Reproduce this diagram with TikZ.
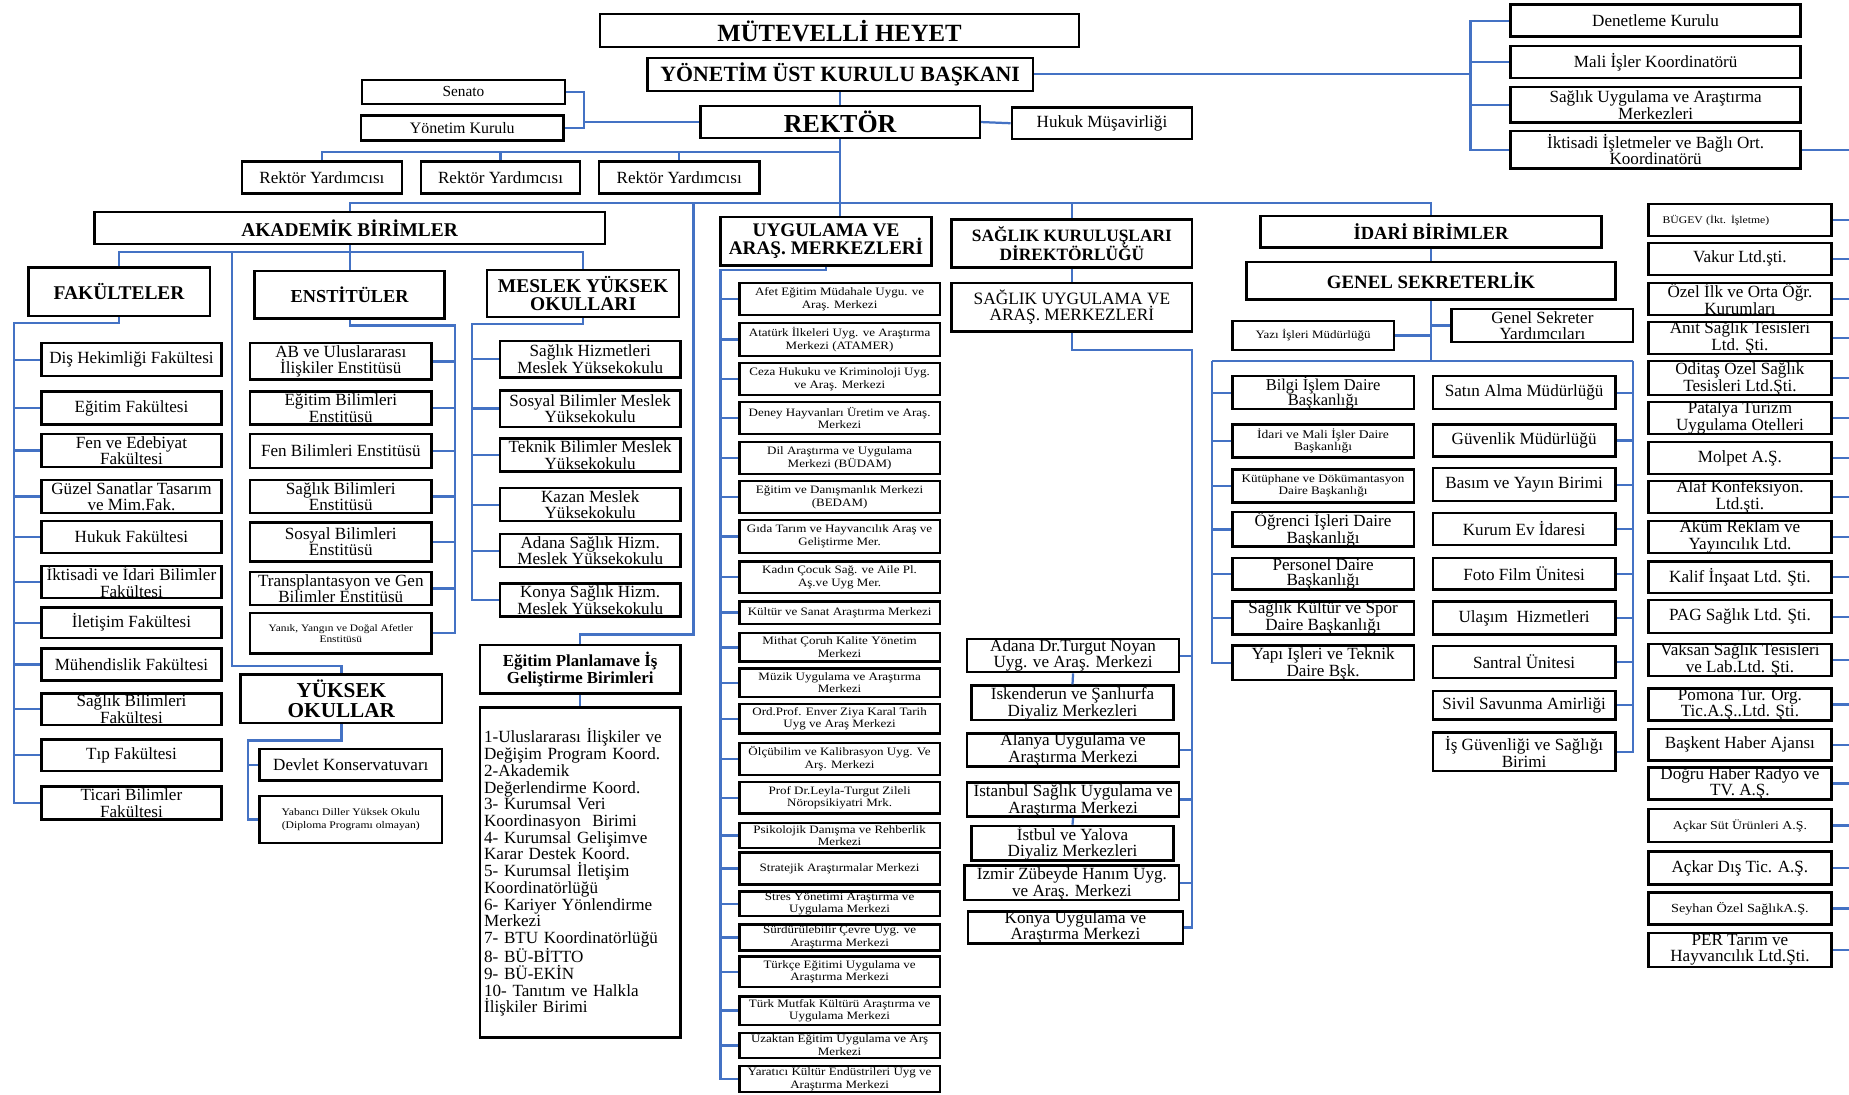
\documentclass[tikz,border=0pt]{standalone}
\usepackage{fontspec}
\setmainfont{Liberation Serif}
\newfontfamily\nrw{Liberation Serif}[FakeStretch=1.15]
\definecolor{cblue}{RGB}{68,114,196}
\tikzset{
  box/.style={draw=black, line width=2.1pt, inner sep=0pt, align=center, fill=white, text=black},
  conn/.style={draw=cblue, line width=1.9pt},
  rg/.style={box, font=\fontsize{14.5}{14}\selectfont},
  sm/.style={box, font=\nrw\fontsize{9.6}{10.7}\selectfont},
  fs/.style 2 args={box, font=\fontsize{#1}{#2}\selectfont},
  sfs/.style 2 args={box, font=\nrw\fontsize{#1}{#2}\selectfont},
  bd/.style 2 args={box, font=\bfseries\fontsize{#1}{#2}\selectfont},
}
\newcommand\bx[7]{\node[#6, minimum width={(#4)-(#2)}, minimum height={(#5)-(#3)}] (#1) at ({((#2)+(#4))/2},{((#3)+(#5))/2}) {#7};}
\begin{document}
\begin{tikzpicture}[x=1pt,y=-1pt]
\fill[white] (0,0) rectangle (1568,928);
\useasboundingbox (0,0) rectangle (1568,928);

% ---------- top ----------
\bx{mh}{509}{12}{915}{40}{bd={21}{21}}{MÜTEVELLİ HEYET}
\bx{yk}{549}{49}{876}{77}{bd={18.5}{18.5}}{YÖNETİM ÜST KURULU BAŞKANI}
\bx{rk}{594}{90}{831}{117}{bd={22}{22}}{REKTÖR}
\bx{hk}{858}{91}{1011}{118}{rg}{Hukuk Müşavirliği}
\bx{sen}{307}{68}{479}{88}{fs={13}{13}}{Senato}
\bx{ykr}{306}{98}{478}{119}{fs={13.5}{13.5}}{Yönetim Kurulu}
\bx{ry1}{205}{137}{341}{164}{rg}{Rektör Yardımcısı}
\bx{ry2}{357}{137}{492}{164}{rg}{Rektör Yardımcısı}
\bx{ry3}{508}{137}{644}{164}{rg}{Rektör Yardımcısı}
\bx{dk}{1281}{4}{1527}{31}{rg}{Denetleme Kurulu}
\bx{mik}{1281}{39}{1527}{66}{rg}{Mali İşler Koordinatörü}
\bx{suam}{1281}{74}{1527}{104}{rg}{Sağlık Uygulama ve Araştırma\\Merkezleri}
\bx{iik}{1281}{111}{1527}{143}{rg}{İktisadi İşletmeler ve Bağlı Ort.\\Koordinatörü}

% ---------- academic ----------
\bx{akd}{80}{180}{513}{207}{bd={16.5}{16.5}}{AKADEMİK BİRİMLER}
\bx{fak}{24}{227}{178}{268}{bd={16.5}{16.5}}{FAKÜLTELER}
\bx{ens}{216}{230}{377}{270}{bd={15.5}{15.5}}{ENSTİTÜLER}
\bx{myo}{413}{229}{576}{269}{bd={16.5}{15.5}}{MESLEK YÜKSEK\\OKULLARI}
\bx{yo}{204}{572}{375}{613}{bd={18}{17}}{YÜKSEK\\OKULLAR}

\bx{f1}{35}{291}{188}{319}{rg}{Diş Hekimliği Fakültesi}
\bx{f2}{35}{332}{188}{360}{rg}{Eğitim Fakültesi}
\bx{f3}{35}{368}{188}{396}{rg}{Fen ve Edebiyat\\Fakültesi}
\bx{f4}{35}{407}{188}{435}{rg}{Güzel Sanatlar Tasarım\\ve Mim.Fak.}
\bx{f5}{35}{442}{188}{469}{rg}{Hukuk Fakültesi}
\bx{f6}{35}{480}{188}{507}{rg}{İktisadi ve İdari Bilimler\\Fakültesi}
\bx{f7}{35}{515}{188}{541}{rg}{İletişim Fakültesi}
\bx{f8}{35}{550}{188}{577}{rg}{Mühendislik Fakültesi}
\bx{f9}{35}{588}{188}{615}{rg}{Sağlık Bilimleri\\Fakültesi}
\bx{f10}{35}{627}{188}{654}{rg}{Tıp Fakültesi}
\bx{f11}{35}{667}{188}{695}{rg}{Ticari Bilimler\\Fakültesi}

\bx{e1}{212}{291}{366}{322}{rg}{AB ve Uluslararası\\İlişkiler Enstitüsü}
\bx{e2}{212}{332}{366}{360}{rg}{Eğitim Bilimleri\\Enstitüsü}
\bx{e3}{212}{368}{366}{397}{rg}{Fen Bilimleri Enstitüsü}
\bx{e4}{212}{407}{366}{435}{rg}{Sağlık Bilimleri\\Enstitüsü}
\bx{e5}{212}{443}{366}{476}{rg}{Sosyal Bilimleri\\Enstitüsü}
\bx{e6}{212}{485}{366}{513}{rg}{Transplantasyon ve Gen\\Bilimler Enstitüsü}
\bx{e7}{212}{520}{366}{554}{sfs={8.4}{9.5}}{Yanık, Yangın ve Doğal Afetler\\Enstitüsü}

\bx{m1}{424}{289}{577}{320}{rg}{Sağlık Hizmetleri\\Meslek Yüksekokulu}
\bx{m2}{424}{331}{577}{362}{rg}{Sosyal Bilimler Meslek\\Yüksekokulu}
\bx{m3}{424}{372}{577}{400}{rg}{Teknik Bilimler Meslek\\Yüksekokulu}
\bx{m4}{424}{414}{577}{442}{rg}{Kazan Meslek\\Yüksekokulu}
\bx{m5}{424}{453}{577}{481}{rg}{Adana Sağlık Hizm.\\Meslek Yüksekokulu}
\bx{m6}{424}{495}{577}{523}{rg}{Konya Sağlık Hizm.\\Meslek Yüksekokulu}

\bx{dev}{220}{635}{375}{662}{rg}{Devlet Konservatuvarı}
\bx{yab}{220}{675}{375}{715}{sfs={8.6}{11}}{Yabancı Diller Yüksek Okulu\\(Diploma Programı olmayan)}

\bx{eplan}{407}{547}{577}{588}{bd={14.3}{14.1}}{Eğitim Planlamave İş\\Geliştirme Birimleri}
\node[box, font=\fontsize{14.5}{14.2}\selectfont, minimum width=170, minimum height=280, text width=163, inner xsep=3.5, align=left] (elist) at (492,740) {1-Uluslararası İlişkiler ve\\Değişim Program Koord.\\2-Akademik\\Değerlendirme Koord.\\3- Kurumsal Veri\\Koordinasyon\ \ Birimi\\4- Kurumsal Gelişimve\\Karar Destek Koord.\\5- Kurumsal İletişim\\Koordinatörlüğü\\6- Kariyer Yönlendirme\\Merkezi\\7- BTU Koordinatörlüğü\\8- BÜ-BİTTO\\9- BÜ-EKİN\\10- Tanıtım ve Halkla\\İlişkiler Birimi};

% ---------- uygulama ----------
\bx{uyg}{611}{184}{790}{225}{bd={16.3}{15.5}}{UYGULAMA VE\\ARAŞ. MERKEZLERİ}
\bx{u1}{627}{240}{797}{267}{sm}{Afet Eğitim Müdahale Uygu. ve\\Araş. Merkezi}
\bx{u2}{627}{274}{797}{302}{sm}{Atatürk İlkeleri Uyg. ve Araştırma\\Merkezi (ATAMER)}
\bx{u3}{627}{308}{797}{335}{sm}{Ceza Hukuku ve Kriminoloji Uyg.\\ve Araş. Merkezi}
\bx{u4}{627}{341}{797}{368}{sm}{Deney Hayvanları Üretim ve Araş.\\Merkezi}
\bx{u5}{627}{375}{797}{402}{sm}{Dil Araştırma ve Uygulama\\Merkezi (BÜDAM)}
\bx{u6}{627}{408}{797}{435}{sm}{Eğitim ve Danışmanlık Merkezi\\(BEDAM)}
\bx{u7}{627}{441}{797}{469}{sm}{Gıda Tarım ve Hayvancılık Araş ve\\Geliştirme Mer.}
\bx{u8}{627}{476}{797}{503}{sm}{Kadın Çocuk Sağ. ve Aile Pl.\\Aş.ve Uyg Mer.}
\bx{u9}{627}{510}{797}{529}{sm}{Kültür ve Sanat Araştırma Merkezi}
\bx{u10}{627}{537}{797}{561}{sm}{Mithat Çoruh Kalite Yönetim\\Merkezi}
\bx{u11}{627}{567}{797}{591}{sm}{Müzik Uygulama ve Araştırma\\Merkezi}
\bx{u12}{627}{597}{797}{622}{sm}{Ord.Prof. Enver Ziya Karal Tarih\\Uyg ve Araş Merkezi}
\bx{u13}{627}{630}{797}{657}{sm}{Ölçübilim ve Kalibrasyon Uyg. Ve\\Arş. Merkezi}
\bx{u14}{627}{663}{797}{690}{sm}{Prof Dr.Leyla-Turgut Zileli\\Nöropsikiyatri Mrk.}
\bx{u15}{627}{698}{797}{719}{sm}{Psikolojik Danışma ve Rehberlik\\Merkezi}
\bx{u16}{627}{723}{797}{750}{sm}{Stratejik Araştırmalar Merkezi}
\bx{u17}{627}{756}{797}{777}{sm}{Stres Yönetimi Araştırma ve\\Uygulama Merkezi}
\bx{u18}{627}{784}{797}{806}{sm}{Sürdürülebilir Çevre Uyg. ve\\Araştırma Merkezi}
\bx{u19}{627}{811}{797}{837}{sm}{Türkçe Eğitimi Uygulama ve\\Araştırma Merkezi}
\bx{u20}{627}{845}{797}{869}{sm}{Türk Mutfak Kültürü Araştırma ve\\Uygulama Merkezi}
\bx{u21}{627}{876}{797}{897}{sm}{Uzaktan Eğitim Uygulama ve Arş\\Merkezi}
\bx{u22}{627}{904}{797}{926}{sm}{Yaratıcı Kültür Endüstrileri Uyg ve\\Araştırma Merkezi}

% ---------- saglik ----------
\bx{skd}{807}{186}{1011}{227}{bd={14.7}{14.7}}{SAĞLIK KURULUŞLARI\\DİREKTÖRLÜĞÜ}
\bx{suam2}{807}{240}{1011}{281}{fs={14.7}{14.1}}{SAĞLIK UYGULAMA VE\\ARAŞ. MERKEZLERİ}
\bx{h1}{820}{542}{1000}{570}{rg}{Adana Dr.Turgut Noyan\\Uyg. ve Araş. Merkezi}
\bx{h2}{824}{582}{995}{610}{rg}{İskenderun ve Şanlıurfa\\Diyaliz Merkezleri}
\bx{h3}{820}{622}{1000}{650}{rg}{Alanya Uygulama ve\\Araştırma Merkezi}
\bx{h4}{820}{664}{1000}{692}{rg}{İstanbul Sağlık Uygulama ve\\Araştırma Merkezi}
\bx{h5}{824}{701}{995}{729}{rg}{İstbul ve Yalova\\Diyaliz Merkezleri}
\bx{h6}{818}{735}{1000}{762}{rg}{İzmir Zübeyde Hanım Uyg.\\ve Araş. Merkezi}
\bx{h7}{821}{773}{1003}{800}{rg}{Konya Uygulama ve\\Araştırma Merkezi}

% ---------- idari ----------
\bx{idr}{1069}{183}{1358}{210}{bd={15.7}{15.7}}{İDARİ BİRİMLER}
\bx{gs}{1057}{222}{1370}{254}{bd={16}{16}}{GENEL SEKRETERLİK}
\bx{yim}{1045}{272}{1182}{297}{sfs={9.6}{10}}{Yazı İşleri Müdürlüğü}
\bx{gsy}{1231}{262}{1385}{290}{rg}{Genel Sekreter\\Yardımcıları}
\bx{l1}{1045}{319}{1199}{347}{fs={14}{13}}{Bilgi İşlem Daire\\Başkanlığı}
\bx{l2}{1045}{360}{1199}{388}{sfs={10}{10.5}}{İdari ve Mali İşler Daire\\Başkanlığı}
\bx{l3}{1045}{398}{1199}{426}{sfs={9.7}{10.5}}{Kütüphane ve Dökümantasyon\\Daire Başkanlığı}
\bx{l4}{1045}{435}{1199}{463}{fs={14.5}{13}}{Öğrenci İşleri Daire\\Başkanlığı}
\bx{l5}{1045}{473}{1199}{500}{fs={14.5}{13}}{Personel Daire\\Başkanlığı}
\bx{l6}{1045}{510}{1199}{538}{fs={14.5}{13}}{Sağlık Kültür ve Spor\\Daire Başkanlığı}
\bx{l7}{1045}{548}{1199}{576}{fs={14.5}{13}}{Yapı İşleri ve Teknik\\Daire Bşk.}
\bx{r1}{1215}{319}{1370}{347}{rg}{Satın Alma Müdürlüğü}
\bx{r2}{1215}{360}{1370}{387}{rg}{Güvenlik Müdürlüğü}
\bx{r3}{1215}{397}{1370}{425}{rg}{Basım ve Yayın Birimi}
\bx{r4}{1215}{435}{1370}{462}{rg}{Kurum Ev İdaresi}
\bx{r5}{1215}{473}{1370}{500}{rg}{Foto Film Ünitesi}
\bx{r6}{1215}{510}{1370}{538}{rg}{Ulaşım\ \ Hizmetleri}
\bx{r7}{1215}{548}{1370}{575}{rg}{Santral Ünitesi}
\bx{r8}{1215}{586}{1370}{610}{rg}{Sivil Savunma Amirliği}
\bx{r9}{1215}{621}{1370}{654}{rg}{İş Güvenliği ve Sağlığı\\Birimi}

% ---------- companies ----------
\node[box, font=\nrw\fontsize{8.6}{9}\selectfont, minimum width=155, minimum height=27, text width=131, inner xsep=12, align=left] (c1) at (1475.5,186.5) {BÜGEV (İkt. İşletme)};
\bx{c2}{1398}{206}{1553}{233}{rg}{Vakur Ltd.şti.}
\bx{c3}{1398}{240}{1553}{267}{rg}{Özel İlk ve Orta Öğr.\\Kurumları}
\bx{c4}{1398}{273}{1553}{300}{rg}{Anıt Sağlık Tesisleri\\Ltd. Şti.}
\bx{c5}{1398}{307}{1553}{334}{rg}{Oditaş Özel Sağlık\\Tesisleri Ltd.Şti.}
\bx{c6}{1398}{341}{1553}{368}{rg}{Patalya Turizm\\Uygulama Otelleri}
\bx{c7}{1398}{375}{1553}{402}{rg}{Molpet A.Ş.}
\bx{c8}{1398}{408}{1553}{435}{rg}{Alaf Konfeksiyon.\\Ltd.şti.}
\bx{c9}{1398}{442}{1553}{469}{rg}{Aküm Reklam ve\\Yayıncılık Ltd.}
\bx{c10}{1398}{476}{1553}{503}{rg}{Kalif İnşaat Ltd. Şti.}
\bx{c11}{1398}{509}{1553}{537}{rg}{PAG Sağlık Ltd. Şti.}
\bx{c12}{1398}{546}{1553}{573}{rg}{Vaksan Sağlık Tesisleri\\ve Lab.Ltd. Şti.}
\bx{c13}{1398}{584}{1553}{611}{rg}{Pomona Tur. Org.\\Tic.A.Ş..Ltd. Şti.}
\bx{c14}{1398}{618}{1553}{645}{rg}{Başkent Haber Ajansı}
\bx{c15}{1398}{651}{1553}{678}{rg}{Doğru Haber Radyo ve\\TV. A.Ş.}
\bx{c16}{1398}{686}{1553}{714}{sfs={10.2}{11}}{Açkar Süt Ürünleri A.Ş.}
\bx{c17}{1398}{722}{1553}{750}{rg}{Açkar Dış Tic. A.Ş.}
\bx{c18}{1398}{757}{1553}{784}{sfs={10.5}{11}}{Seyhan Özel SağlıkA.Ş.}
\bx{c19}{1398}{791}{1553}{820}{rg}{PER Tarım ve\\Hayvancılık Ltd.Şti.}

% ---------- connectors ----------
\coordinate (edge) at (1568,0);
\coordinate (brR) at (1247,64);
\draw[conn] (yk.east) -- (yk.east -| brR);
\draw[conn] (dk.west) -- (dk.west -| brR) -- (iik.west -| brR) -- (iik.west);
\draw[conn] (mik.west -| brR) -- (mik.west);
\draw[conn] (suam.west -| brR) -- (suam.west);
\draw[conn] (iik.east) -- (iik.east -| edge);

\coordinate (brL) at (495,104);
\draw[conn] (rk.west) -- (rk.west -| brL);
\draw[conn] (sen.east) -- (sen.east -| brL) -- (ykr.east -| brL) -- (ykr.east);
\draw[conn] (yk.south) -- (rk.north);
\draw[conn] (rk.east) -- (hk.west);

\coordinate (ryb) at (712.5,129);
\draw[conn] (ryb) -| (ry1.north);
\draw[conn] (ry2.north |- ryb) -- (ry2.north);
\draw[conn] (ry3.north |- ryb) -- (ry3.north);
\draw[conn] (rk.south) -- (rk.south |- uyg.north);

\coordinate (bb) at (712.5,172);
\draw[conn] (akd.north) |- (bb) -| (idr.north);
\draw[conn] (skd.north |- bb) -- (skd.north);
\coordinate (epk) at (588,538);
\draw[conn] (epk |- bb) -- (epk) -| (eplan.north);
\draw[conn] (eplan.south) -- (elist.north);

% academic
\coordinate (aks) at (0,214);
\draw[conn] (akd.south) -- (ens.north);
\draw[conn] (fak.north) |- (myo.north |- aks) -- (myo.north);
\coordinate (ykv) at (197,565);
\draw[conn] (ykv |- aks) -- (ykv) -| (yo.north);

\coordinate (fkv) at (12,274);
\draw[conn] (fak.south) |- (fkv) |- (f11.west);
\foreach \i in {1,...,10} \draw[conn] (fkv |- f\i.west) -- (f\i.west);

\coordinate (ekv) at (386,276);
\draw[conn] (ens.south) |- (ekv) |- (e7.east);
\foreach \i in {1,...,6} \draw[conn] (ekv |- e\i.east) -- (e\i.east);

\coordinate (mkv) at (400,275);
\draw[conn] (myo.south) |- (mkv) |- (m6.west);
\foreach \i in {1,...,5} \draw[conn] (mkv |- m\i.west) -- (m\i.west);

\coordinate (yov) at (210,628);
\draw[conn] (yo.south) |- (yov) |- (yab.west);
\draw[conn] (yov |- dev.west) -- (dev.west);

% uygulama
\coordinate (ukv) at (611,229);
\draw[conn] (uyg.south) |- (ukv) |- (u22.west);
\foreach \i in {1,...,21} \draw[conn] (ukv |- u\i.west) -- (u\i.west);

% saglik
\draw[conn] (skd.south) -- (suam2.north);
\coordinate (hkv) at (1011,297);
\draw[conn] (suam2.south) |- (hkv) |- (h7.east);
\foreach \n in {h1,h3,h4,h6} \draw[conn] (hkv |- \n.east) -- (\n.east);
\draw[conn] (h1.south) -- (h2.north);
\draw[conn] (h4.south) -- (h5.north);

% idari
\draw[conn] (idr.south) -- (gs.north);
\coordinate (ib) at (1214,306);
\draw[conn] (gs.south) -- (gs.south |- ib);
\draw[conn] (yim.east) -- (yim.east -| ib);
\draw[conn] (gsy.west) -- (gsy.west -| ib);
\coordinate (ilv) at (1028,306);
\coordinate (irv) at (1385,306);
\draw[conn] (ilv) -- (irv);
\draw[conn] (ilv) |- (l7.west);
\foreach \i in {1,...,6} \draw[conn] (ilv |- l\i.west) -- (l\i.west);
\draw[conn] (irv) |- (r9.east);
\foreach \i in {1,...,8} \draw[conn] (irv |- r\i.east) -- (r\i.east);

% companies
\foreach \i in {1,...,19} \draw[conn] (c\i.east) -- (c\i.east -| edge);
\end{tikzpicture}
\end{document}
